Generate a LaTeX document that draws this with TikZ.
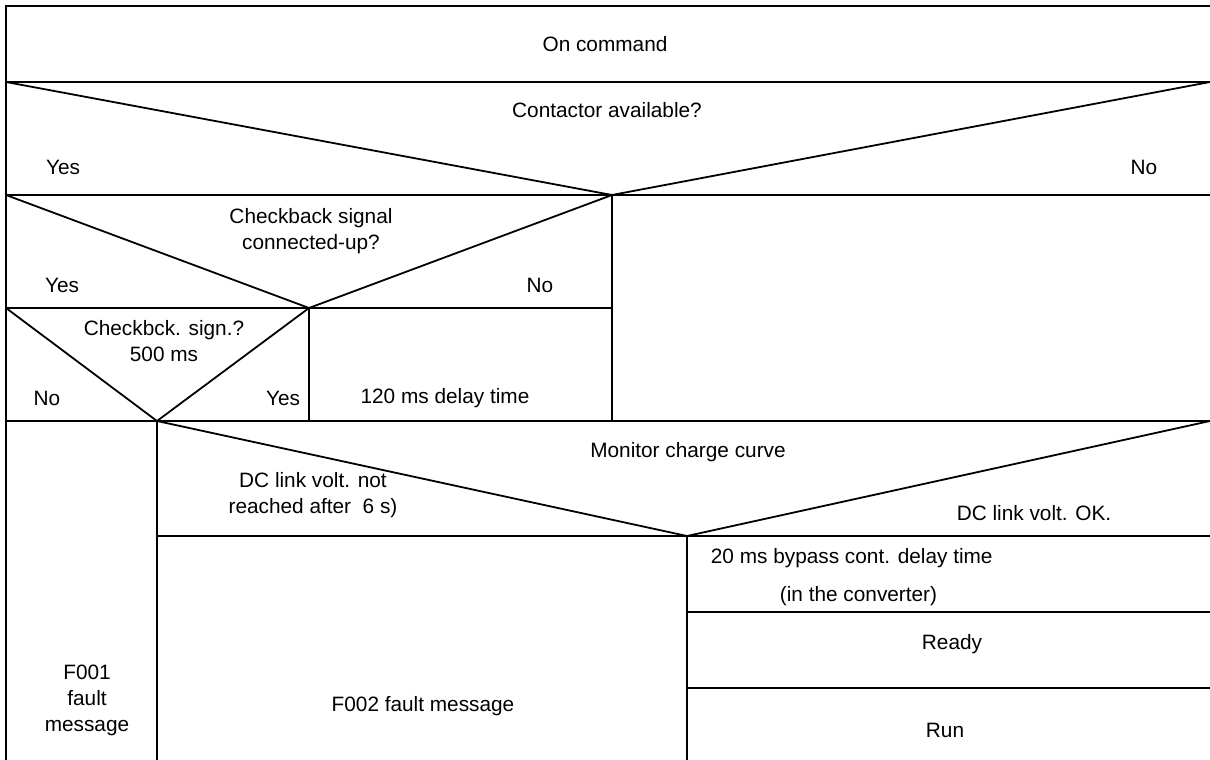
\documentclass[tikz,border=0pt]{standalone}
\usepackage{fontspec}
\setmainfont{Liberation Sans}
\begin{document}
\begin{tikzpicture}[x=1pt,y=-1pt,line width=1.8pt,
    lbl/.style={inner sep=0pt,font=\fontsize{20.8}{26}\selectfont,align=center}]
        \useasboundingbox (0,0) rectangle (1210,760);

        % decision vertices
        \coordinate (contactor) at (612,195);
        \coordinate (checkback) at (309,308);
        \coordinate (timeout) at (157,421);
        \coordinate (charge) at (687,536);

        % outer frame and full-width rows
        \draw (1210,6) -- (6,6) -- (6,760);
        \draw (6,82) -- (1210,82);
        \draw (6,195) -- (1210,195);
        \draw (6,421) -- (1210,421);

        % contactor available?
        \draw (6,82) -- (contactor) -- (1210,82);
        \draw (contactor) -- (612,421);

        % checkback signal connected-up?
        \draw (6,195) -- (checkback) -- (contactor);
        \draw (6,308) -- (612,308);
        \draw (checkback) -- (309,421);

        % checkback within 500 ms
        \draw (6,308) -- (timeout) -- (checkback);
        \draw (timeout) -- (157,760);

        % monitor charge curve
        \draw (timeout) -- (charge) -- (1210,421);
        \draw (157,536) -- (1210,536);
        \draw (charge) -- (687,760);
        \draw (687,612) -- (1210,612);
        \draw (687,688) -- (1210,688);

        \node[lbl] (oncmd) at (605,44) {On command};
        \node[lbl] (avail) at (607,110) {Contactor available?};
        \node[lbl] (availyes) at (63,167) {Yes};
        \node[lbl] (availno) at (1144,167) {No};

        \node[lbl] (cbsig) at (311,231) {Checkback signal\\connected-up?};
        \node[lbl] (cbyes) at (62,285) {Yes};
        \node[lbl] (cbno) at (540,285) {No};

        \node[lbl] (cbtime) at (164,341) {Checkbck. sign.?\\500 ms};
        \node[lbl] (cbtno) at (47,398) {No};
        \node[lbl] (cbtyes) at (283,398) {Yes};
        \node[lbl] (delay) at (445,398) {120 ms delay time};

        \node[lbl] (monitor) at (688,452) {Monitor charge curve};
        \node[lbl] (dcfail) at (313,495) {DC link volt. not\\reached after\ \ 6 s)};
        \node[lbl] (dcok) at (1034,513) {DC link volt. OK.};

        \node[lbl,anchor=west] (bypass) at (710,558) {20 ms bypass cont. delay time};
        \node[lbl,anchor=west] (conv) at (779,596) {(in the converter)};
        \node[lbl] (ready) at (952,644) {Ready};
        \node[lbl] (run) at (945,730) {Run};

        \node[lbl] (fone) at (87,700) {F001\\fault\\message};
        \node[lbl] (ftwo) at (423,706) {F002 fault message};
    \end{tikzpicture}
\end{document}
